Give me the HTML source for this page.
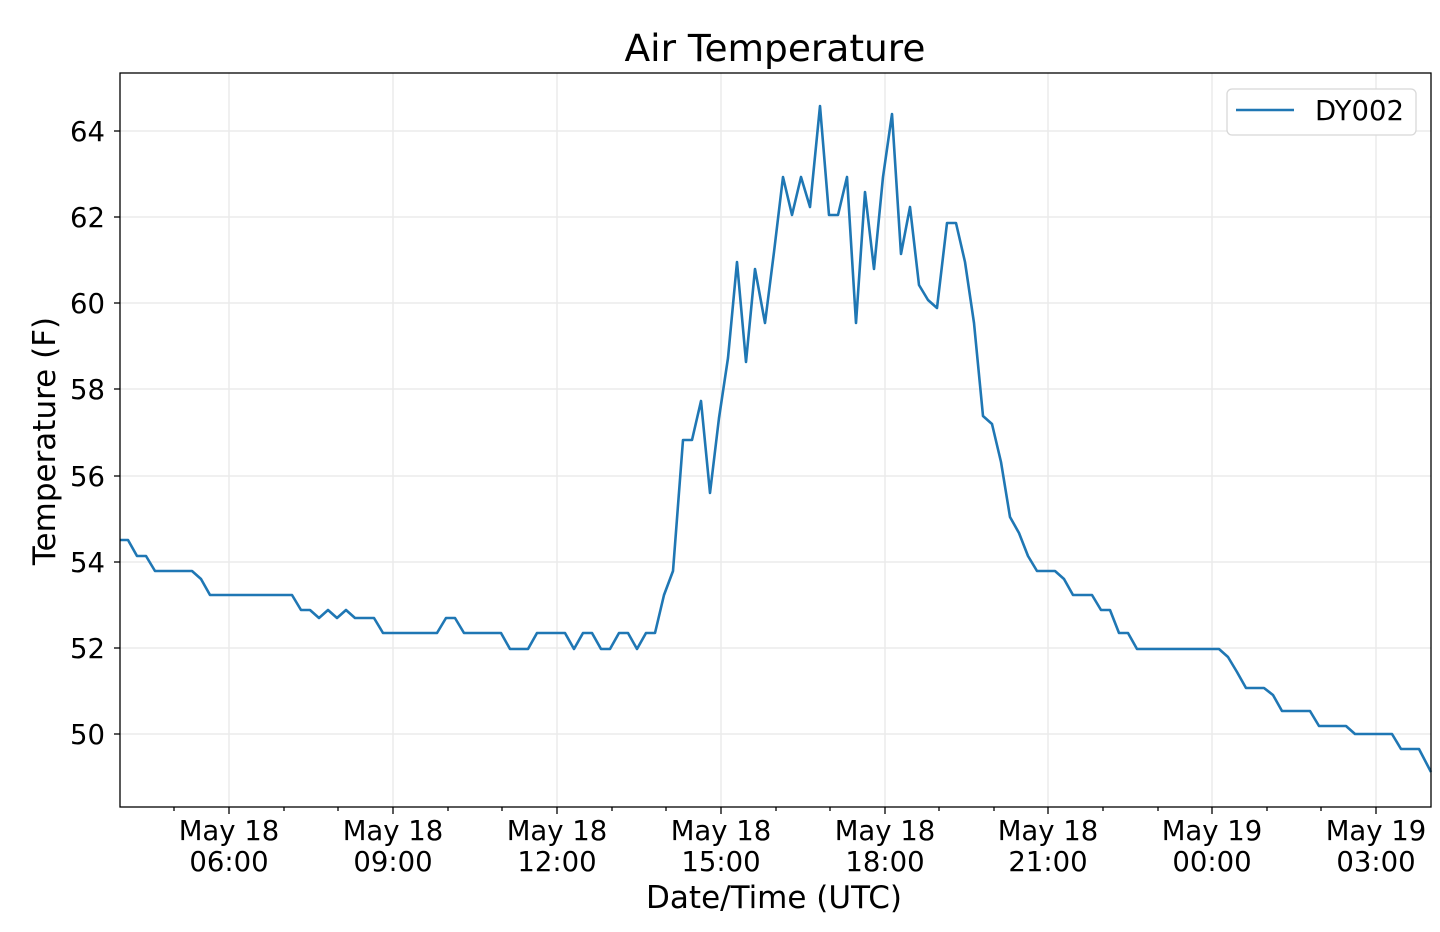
<!DOCTYPE html>
<html><head><meta charset="utf-8"><style>body{margin:0;background:#fff}svg{display:block}</style></head><body>
<svg width="1440" height="932" xmlns="http://www.w3.org/2000/svg" font-family="DejaVu Sans, Liberation Sans, sans-serif">
<rect width="1440" height="932" fill="#fff"/>
<g stroke="#ebebeb" stroke-width="1.5">
<line x1="120" x2="1431" y1="131" y2="131"/><line x1="120" x2="1431" y1="217" y2="217"/><line x1="120" x2="1431" y1="303" y2="303"/><line x1="120" x2="1431" y1="389" y2="389"/><line x1="120" x2="1431" y1="476" y2="476"/><line x1="120" x2="1431" y1="562" y2="562"/><line x1="120" x2="1431" y1="648" y2="648"/><line x1="120" x2="1431" y1="734" y2="734"/>
<line y1="73" y2="807" x1="229" x2="229"/><line y1="73" y2="807" x1="393" x2="393"/><line y1="73" y2="807" x1="557" x2="557"/><line y1="73" y2="807" x1="721" x2="721"/><line y1="73" y2="807" x1="885" x2="885"/><line y1="73" y2="807" x1="1048" x2="1048"/><line y1="73" y2="807" x1="1212" x2="1212"/><line y1="73" y2="807" x1="1376" x2="1376"/>
</g>
<g stroke="#000" stroke-width="1.3">
<line x1="114" x2="120" y1="131" y2="131"/><line x1="114" x2="120" y1="217" y2="217"/><line x1="114" x2="120" y1="303" y2="303"/><line x1="114" x2="120" y1="389" y2="389"/><line x1="114" x2="120" y1="476" y2="476"/><line x1="114" x2="120" y1="562" y2="562"/><line x1="114" x2="120" y1="648" y2="648"/><line x1="114" x2="120" y1="734" y2="734"/>
<line y1="807" y2="814" x1="229" x2="229"/><line y1="807" y2="814" x1="393" x2="393"/><line y1="807" y2="814" x1="557" x2="557"/><line y1="807" y2="814" x1="721" x2="721"/><line y1="807" y2="814" x1="885" x2="885"/><line y1="807" y2="814" x1="1048" x2="1048"/><line y1="807" y2="814" x1="1212" x2="1212"/><line y1="807" y2="814" x1="1376" x2="1376"/>
<line y1="807" y2="811" x1="174" x2="174"/><line y1="807" y2="811" x1="284" x2="284"/><line y1="807" y2="811" x1="338" x2="338"/><line y1="807" y2="811" x1="448" x2="448"/><line y1="807" y2="811" x1="502" x2="502"/><line y1="807" y2="811" x1="612" x2="612"/><line y1="807" y2="811" x1="666" x2="666"/><line y1="807" y2="811" x1="776" x2="776"/><line y1="807" y2="811" x1="830" x2="830"/><line y1="807" y2="811" x1="939" x2="939"/><line y1="807" y2="811" x1="994" x2="994"/><line y1="807" y2="811" x1="1103" x2="1103"/><line y1="807" y2="811" x1="1158" x2="1158"/><line y1="807" y2="811" x1="1267" x2="1267"/><line y1="807" y2="811" x1="1321" x2="1321"/>
</g>
<polyline fill="none" stroke="#1f77b4" stroke-width="2.6" stroke-linejoin="round" points="120,540 128,540 137,556 146,556 155,571 192,571 201,579 210,595 292,595 301,610 310,610 319,618 328,610 337,618 346,610 355,618 374,618 383,633 437,633 446,618 455,618 464,633 501,633 510,649 528,649 537,633 565,633 574,649 583,633 592,633 601,649 610,649 619,633 628,633 637,649 646,633 655,633 664,595 673,571 683,440 692,440 701,401 710,493 719,418 728,358 737,262 746,362 755,269 765,323 774,252 783,177 792,215 801,177 810,207 820,106 829,215 838,215 847,177 856,323 865,192 874,269 883,177 892,114 901,254 910,207 919,285 928,300 937,308 947,223 956,223 965,262 974,323 983,416 992,424 1001,462 1010,517 1019,533 1028,556 1037,571 1055,571 1064,579 1073,595 1092,595 1101,610 1110,610 1119,633 1128,633 1137,649 1219,649 1228,657 1237,672 1246,688 1264,688 1273,695 1282,711 1310,711 1319,726 1346,726 1355,734 1392,734 1401,749 1419,749 1431,772"/>
<rect x="120" y="73" width="1311" height="734" fill="none" stroke="#000" stroke-width="1.3"/>
<g font-size="27.5" text-anchor="end" fill="#000">
<text x="105" y="141">64</text><text x="105" y="227">62</text><text x="105" y="313">60</text><text x="105" y="399">58</text><text x="105" y="486">56</text><text x="105" y="572">54</text><text x="105" y="658">52</text><text x="105" y="744">50</text>
</g>
<g font-size="27.5" text-anchor="middle" fill="#000">
<text x="229" y="840">May 18</text><text x="229" y="871">06:00</text>
<text x="393" y="840">May 18</text><text x="393" y="871">09:00</text>
<text x="557" y="840">May 18</text><text x="557" y="871">12:00</text>
<text x="721" y="840">May 18</text><text x="721" y="871">15:00</text>
<text x="885" y="840">May 18</text><text x="885" y="871">18:00</text>
<text x="1048" y="840">May 18</text><text x="1048" y="871">21:00</text>
<text x="1212" y="840">May 19</text><text x="1212" y="871">00:00</text>
<text x="1376" y="840">May 19</text><text x="1376" y="871">03:00</text>
<text x="774" y="908" font-size="31">Date/Time (UTC)</text>
<text x="775" y="61" font-size="37.5">Air Temperature</text>
<text transform="translate(55,441) rotate(-90)" font-size="31">Temperature (F)</text>
</g>
<rect x="1227" y="89" width="189" height="46" rx="5" fill="#fff" stroke="#d8d8d8" stroke-width="1.3"/>
<line x1="1236" x2="1294" y1="110" y2="110" stroke="#1f77b4" stroke-width="2.6"/>
<text x="1315" y="120" font-size="27.5" fill="#000">DY002</text>
</svg>
</body></html>
